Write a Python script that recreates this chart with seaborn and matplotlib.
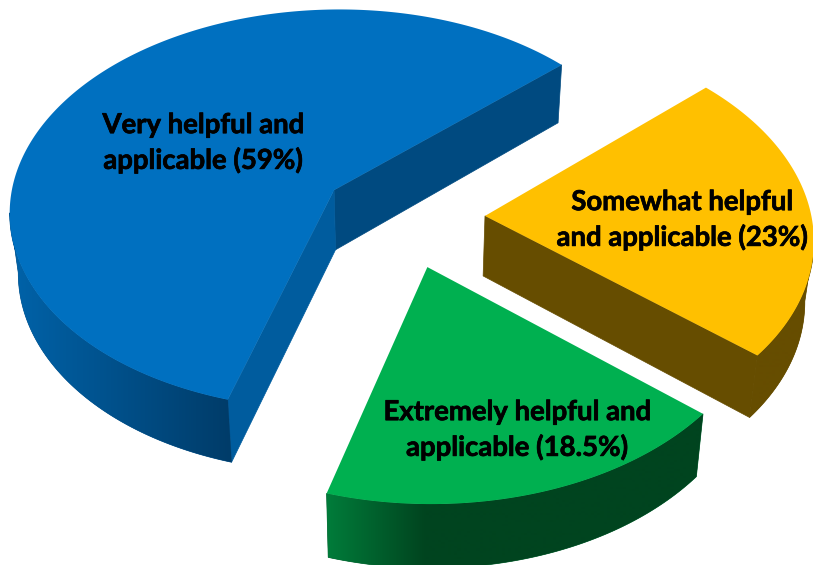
import numpy as np
import matplotlib
matplotlib.use('Agg')
import matplotlib.pyplot as plt
import matplotlib.patheffects as pe
from matplotlib.colors import to_rgb
from matplotlib.patches import Polygon
import seaborn as sns

# Chart data
labels = ['Very helpful and\napplicable (59%)',
          'Somewhat helpful\nand applicable (23%)',
          'Extremely helpful and\napplicable (18.5%)']
values = [59, 23, 18.5]
top_colors = ['#0070C0', '#FFC000', '#00B050']

# Camera for the tilted pie: pie plane -> image pixels
view = np.array([[326.354, -39.429, 402.903],
                 [-43.012, -176.977, 216.915],
                 [0.022989, 0.095045, 1.0]])
explode = 0.2516
start = 240

# Side wall colours: faces under the two straight edges, then outer wall
# going from light to dark between two x pixels
far_colors = ['#004A80', '#664D00', '#00441F']
near_colors = ['#005C9E', '#664D00', '#00441F']
wall_light = ['#0062A8', '#664D00', '#007C3A']
wall_dark = ['#003C69', '#664D00', '#00441F']
wall_span = [(15, 230), (600, 800), (327, 425)]

label_pos = [(203, 143), (682, 220), (517, 430)]


def project(pts):
    q = np.c_[pts, np.ones(len(pts))] @ view.T
    return q[:, :2] / q[:, 2:]


def drop(pts):
    # lower rim of the slab
    out = pts.copy()
    out[:, 0] = pts[:, 0] - 0.022 * (pts[:, 0] - 400)
    out[:, 1] = pts[:, 1] + 57 + 0.014 * pts[:, 1]
    return out


def slab(upper):
    return np.vstack([upper, drop(upper)[::-1]])


def faces_viewer(p0, p1, inside):
    # True when the wall under edge p0-p1 turns towards the bottom of the picture
    e = p1 - p0
    n = np.array([-e[1], e[0]])
    if n @ (inside - p0) > 0:
        n = -n
    return n[1] > 0


sns.set_theme(style='white')
plt.rcParams['font.family'] = ['Lato', 'DejaVu Sans']

fig = plt.figure(figsize=(8.13, 5.65), dpi=100)
ax = fig.add_axes([0, 0, 1, 1])

wedges, _ = ax.pie(values, explode=[explode] * 3, startangle=start,
                   counterclock=False, colors=top_colors)

ax.set_aspect('auto')
ax.axis('off')

palette = sns.color_palette(top_colors)
for i, w in enumerate(wedges):
    w.set_visible(False)
    th = np.radians(np.linspace(w.theta1, w.theta2, 300))
    center = np.array(w.center)
    rim = project(center + w.r * np.c_[np.cos(th), np.sin(th)])
    apex = project(center[None])[0]
    inside = rim[len(rim) // 2]

    # straight cut faces, only the ones turned towards the viewer
    for end, col in ((rim[0], far_colors[i]), (rim[-1], near_colors[i])):
        if faces_viewer(apex, end, inside):
            poly = slab(np.vstack([apex, end]))
            ax.fill(poly[:, 0], poly[:, 1], color=col, lw=0.5, zorder=2)

    # outer wall: the visible stretch of rim, with a left-right shading
    seen = [j for j in range(len(rim) - 1) if faces_viewer(rim[j], rim[j + 1], apex)]
    wall = slab(rim[seen[0]:seen[-1] + 2])
    c0 = np.array(to_rgb(wall_light[i]))
    c1 = np.array(to_rgb(wall_dark[i]))
    ax.fill(wall[:, 0], wall[:, 1], color=tuple((c0 + c1) / 2), lw=0.5, zorder=2.2)
    x0, x1 = wall_span[i]
    t = np.clip((np.arange(813) + 0.5 - x0) / (x1 - x0), 0, 1)[None, :, None]
    img = ax.imshow(c0 * (1 - t) + c1 * t, extent=(0, 813, 565, 0), aspect='auto',
                    zorder=2.5, interpolation='bilinear')
    img.set_clip_path(Polygon(wall, transform=ax.transData))

    # top of the slice
    top = np.vstack([apex, rim])
    ax.fill(top[:, 0], top[:, 1], color=palette[i], lw=0, zorder=3)
    ax.text(label_pos[i][0], label_pos[i][1], labels[i], ha='center', va='center',
            fontsize=19.8, fontweight='bold', color='black', linespacing=1.36, zorder=4,
            path_effects=[pe.withStroke(linewidth=0.5, foreground='black')])

ax.set_xlim(0, 813)
ax.set_ylim(565, 0)

fig.savefig('out.png', dpi=100)
